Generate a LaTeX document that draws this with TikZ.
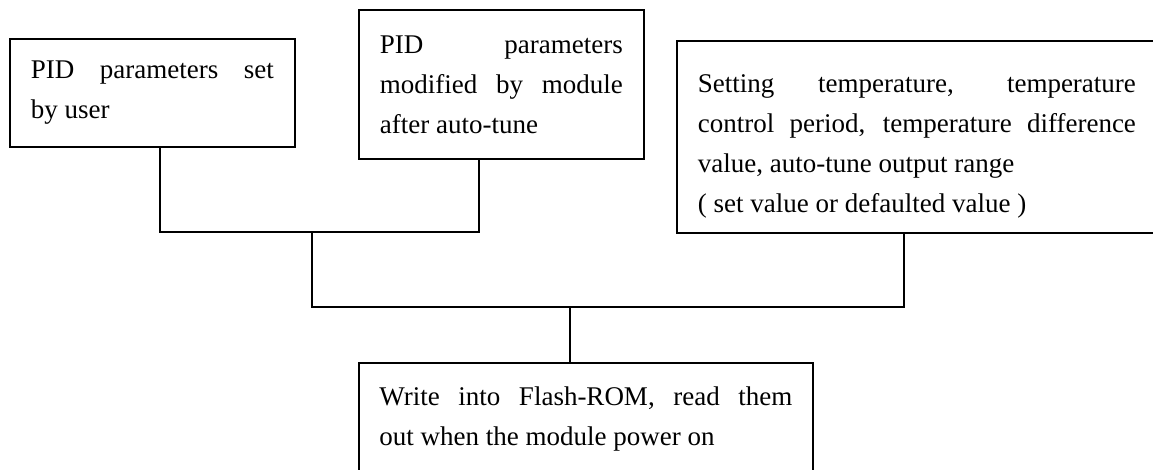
\documentclass[tikz,border=0pt]{standalone}
\usepackage{fontspec}
\setmainfont{Liberation Serif}
\usepackage{tikz}
\usetikzlibrary{positioning,calc}

\begin{document}
\begin{tikzpicture}[
    x=1pt,
    y=-1pt,
    font=\fontsize{27}{40}\selectfont,
    box/.style={
        draw,
        line width=1.8pt,
        anchor=north west,
        align=justify,
        inner xsep=21pt,
        inner ysep=8pt
    },
    wire/.style={
        line width=1.8pt
    }
]

\useasboundingbox (0,0) rectangle (1153,470);

\node[box, text width=243pt, minimum height=108pt] (user) at (9,38)
    {PID parameters set\linebreak by user};
\node[box, text width=243pt, minimum height=149pt] (tune) at (358,9)
    {PID parameters\linebreak modified by module\linebreak after auto-tune};
\node[box, text width=438pt, minimum height=192pt, text height=36pt] (setting) at (676,40)
    {Setting temperature, temperature\linebreak control period, temperature difference\linebreak value, auto-tune output range\\( set value or defaulted value )};
\node[box, text width=413pt, inner xsep=20.5pt, minimum height=112pt] (flash) at (358,362)
    {Write into Flash-ROM, read them\linebreak out when the module power on};

\coordinate (busA) at (312,232);
\coordinate (busB) at (570,307);

\draw[wire] ([xshift=7.5pt]user.south) |- (busA) -| ([xshift=-22.5pt]tune.south);
\draw[wire] (busA) |- (busB) -| ([xshift=-13pt]setting.south);
\draw[wire] (busB) -- (busB |- flash.north);

\end{tikzpicture}
\end{document}
